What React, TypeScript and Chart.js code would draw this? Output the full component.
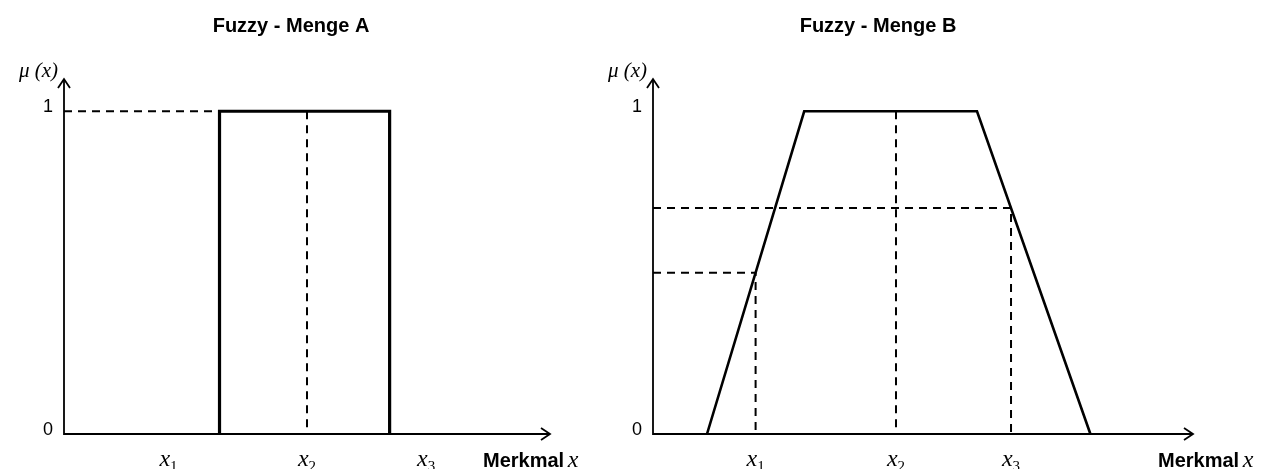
import React, { useEffect, useRef } from 'react';
import { Chart, registerables } from 'chart.js';

Chart.register(...registerables);

// ---- data ----
const titles = ['Fuzzy - Menge A', 'Fuzzy - Menge B'];
const yAxisTitle = 'μ (x)';
const xAxisTitleBold = 'Merkmal';
const xAxisTitleVar = 'x';
const yTicks = [0, 1];
const pointNames = ['1', '2', '3'];

// Fuzzy set A (crisp rectangle)
const setA_x = [3.2, 3.2, 6.7, 6.7];
const setA_mu = [0, 1, 1, 0];
const pointsA_x = [2.15, 5.0, 7.45];
const guideA1_x = [0, 3.2];
const guideA1_mu = [1, 1];
const guideA2_x = [5.0, 5.0];
const guideA2_mu = [1, 0];

// Fuzzy set B (trapezoid)
const setB_x = [1.0, 2.8, 6.0, 8.1];
const setB_mu = [0, 1, 1, 0];
const pointsB_x = [1.9, 4.5, 6.63];
const guideB1_x = [0, 1.9, 1.9];
const guideB1_mu = [0.5, 0.5, 0];
const guideB2_x = [4.5, 4.5];
const guideB2_mu = [1, 0];
const guideB3_x = [0, 6.63, 6.63];
const guideB3_mu = [0.7, 0.7, 0];

const X_MAX = 10;
const Y_MAX = 1.1;

const pts = (xs: number[], ys: number[]) => xs.map((x, i) => ({ x, y: ys[i] }));

const solid = (xs: number[], ys: number[], w: number) => ({
  data: pts(xs, ys),
  borderColor: '#000',
  borderWidth: w,
  pointRadius: 0,
  borderJoinStyle: 'miter' as const,
  tension: 0,
  fill: false,
  clip: false as any,
  order: 0,
});
const dashed = (xs: number[], ys: number[]) => ({
  data: pts(xs, ys),
  borderColor: '#000',
  borderWidth: 2,
  borderDash: [8, 6],
  pointRadius: 0,
  tension: 0,
  fill: false,
  clip: false as any,
  order: 1,
});

type Cfg = {
  left: number;
  width: number;
  padding: { left: number; right: number; top: number; bottom: number };
  title: string;
  titleX: number;
  tickX: number[];
  xTitleX: number;
  datasets: any[];
};

const SERIF = '"Liberation Serif", "Times New Roman", serif';
const SANS = '"Liberation Sans", Arial, sans-serif';

function makePlugin(cfg: Cfg) {
  return {
    id: 'fuzzyDecor',
    afterDatasetsDraw(chart: any) {
      const { ctx } = chart;
      const xs = chart.scales.x;
      const ys = chart.scales.y;
      const x0 = xs.getPixelForValue(0);
      const y0 = ys.getPixelForValue(0);
      const xTip = xs.getPixelForValue(X_MAX);
      const yTip = ys.getPixelForValue(Y_MAX);
      ctx.save();
      ctx.strokeStyle = '#000';
      ctx.fillStyle = '#000';
      ctx.lineWidth = 1.8;
      ctx.lineJoin = 'miter';
      ctx.beginPath();
      ctx.moveTo(x0, yTip);
      ctx.lineTo(x0, y0);
      ctx.lineTo(xTip, y0);
      ctx.stroke();
      // arrow heads
      ctx.beginPath();
      ctx.moveTo(x0 - 6, yTip + 9);
      ctx.lineTo(x0, yTip);
      ctx.lineTo(x0 + 6, yTip + 9);
      ctx.stroke();
      ctx.beginPath();
      ctx.moveTo(xTip - 9, y0 - 6);
      ctx.lineTo(xTip, y0);
      ctx.lineTo(xTip - 9, y0 + 6);
      ctx.stroke();

      // title
      ctx.font = `bold 20px ${SANS}`;
      ctx.textAlign = 'center';
      ctx.textBaseline = 'alphabetic';
      ctx.fillText(cfg.title, cfg.titleX, 32);

      // y ticks
      ctx.font = `18px ${SANS}`;
      ctx.textAlign = 'center';
      yTicks.forEach((t) => {
        ctx.fillText(String(t), x0 - 16, ys.getPixelForValue(t) + 1);
      });

      // y axis title
      ctx.font = `italic 21px ${SERIF}`;
      ctx.textAlign = 'right';
      ctx.fillText(yAxisTitle, x0 - 6, 77);

      // x point labels with subscripts
      cfg.tickX.forEach((v, i) => {
        const cx = xs.getPixelForValue(v);
        ctx.font = `italic 24px ${SERIF}`;
        const wx = ctx.measureText('x').width;
        ctx.font = `15px ${SERIF}`;
        const ws = ctx.measureText(pointNames[i]).width;
        const start = cx - (wx + ws) / 2;
        ctx.textAlign = 'left';
        ctx.font = `italic 24px ${SERIF}`;
        ctx.fillText('x', start, 466);
        ctx.font = `15px ${SERIF}`;
        ctx.fillText(pointNames[i], start + wx, 471);
      });

      // x axis title
      ctx.textAlign = 'left';
      ctx.font = `bold 20px ${SANS}`;
      ctx.fillText(xAxisTitleBold, cfg.xTitleX, 467);
      const wb = ctx.measureText(xAxisTitleBold + ' ').width;
      ctx.font = `italic 24px ${SERIF}`;
      ctx.fillText(xAxisTitleVar, cfg.xTitleX + wb - 2, 467);
      ctx.restore();
    },
  };
}

const cfgA: Cfg = {
  left: 0,
  width: 580,
  padding: { left: 64, right: 30, top: 79, bottom: 35 },
  title: titles[0],
  titleX: 291,
  tickX: pointsA_x,
  xTitleX: 483,
  datasets: [
    dashed(guideA1_x, guideA1_mu),
    dashed(guideA2_x, guideA2_mu),
    solid(setA_x, setA_mu, 3.2),
  ],
};

const cfgB: Cfg = {
  left: 580,
  width: 685,
  padding: { left: 73, right: 72, top: 79, bottom: 35 },
  title: titles[1],
  titleX: 878 - 580,
  tickX: pointsB_x,
  xTitleX: 1158 - 580,
  datasets: [
    dashed(guideB1_x, guideB1_mu),
    dashed(guideB2_x, guideB2_mu),
    dashed(guideB3_x, guideB3_mu),
    solid(setB_x, setB_mu, 2.6),
  ],
};

function FuzzyChart({ cfg }: { cfg: Cfg }) {
  const ref = useRef<HTMLCanvasElement | null>(null);
  useEffect(() => {
    if (!ref.current) return;
    const chart = new Chart(ref.current, {
      type: 'line',
      data: { datasets: cfg.datasets as any },
      options: {
        animation: false,
        responsive: false,
        devicePixelRatio: 1,
        layout: { padding: cfg.padding },
        plugins: {
          legend: { display: false },
          title: { display: false },
          tooltip: { enabled: false },
        },
        scales: {
          x: { type: 'linear', min: 0, max: X_MAX, display: false },
          y: { type: 'linear', min: 0, max: Y_MAX, display: false },
        },
      },
      plugins: [makePlugin(cfg)],
    });
    return () => chart.destroy();
  }, []);
  return (
    <canvas
      ref={ref}
      width={cfg.width}
      height={469}
      style={{ position: 'absolute', left: cfg.left, top: 0, width: cfg.width, height: 469 }}
    />
  );
}

export default function App() {
  return (
    <div style={{ position: 'absolute', left: 0, top: 0, width: 1265, height: 469, background: '#fff' }}>
      <FuzzyChart cfg={cfgA} />
      <FuzzyChart cfg={cfgB} />
    </div>
  );
}
